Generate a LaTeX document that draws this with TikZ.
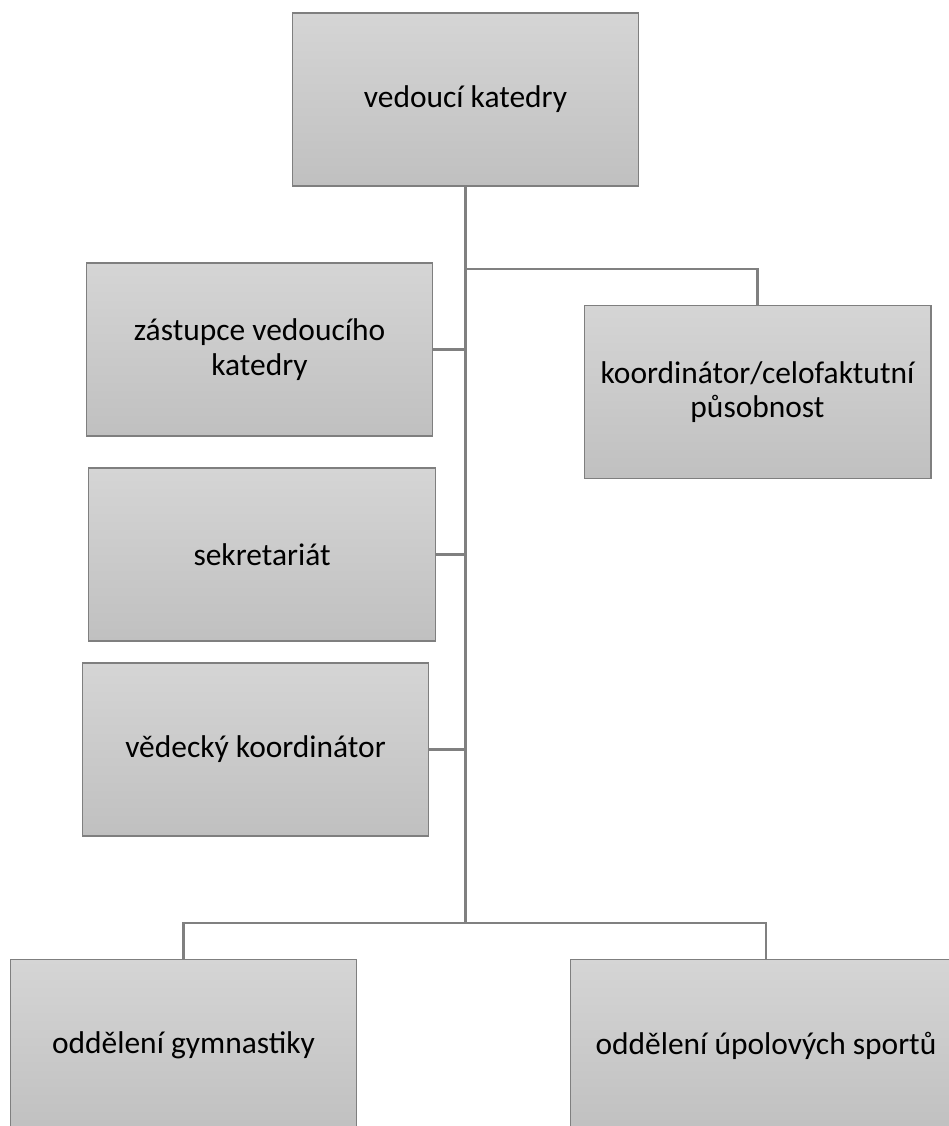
\documentclass[tikz,border=0pt]{standalone}
\usepackage{fontspec}
\setmainfont{Carlito}
\usepackage{tikz}

\definecolor{boxtop}{HTML}{D5D5D5}
\definecolor{boxbot}{HTML}{C0C0C0}
\definecolor{boxline}{HTML}{7F7F7F}
\definecolor{wire}{HTML}{808080}

\begin{document}
\begin{tikzpicture}[x=0.02cm, y=-0.02cm,
    unit/.style={rectangle, draw=boxline, line width=0.6pt, top color=boxtop, bottom color=boxbot,
        minimum width=6.94cm, minimum height=3.46cm, align=center, inner sep=0pt,
        font=\fontsize{17.9pt}{19.5pt}\selectfont},
    wide/.style={unit, minimum width=7.84cm},
    link/.style={draw=wire, line width=1.15pt}]
    \useasboundingbox (0,0) rectangle (949,1126);
    \clip (0,0) rectangle (949,1126);
    \node[unit] at (465.5,99.5) (head) {vedoucí katedry};
    \node[unit] at (757.5,392) (koord) {koordinátor/celofaktutní\\působnost};
    \node[unit] at (259.5,349.5) (zast) {zástupce vedoucího\\katedry};
    \node[unit] at (262,554.5) (sekr) {sekretariát};
    \node[unit] at (255.5,749.5) (vedkoord) {vědecký koordinátor};
    \node[unit] at (183.5,1045.5) (gym) {oddělení gymnastiky};
    \node[wide] at (766,1045.5) (upol) {oddělení úpolových sportů};
    \coordinate (fork) at (465.5,269);
    \coordinate (split) at (465.5,923);
    \path [link] (head.south) -- (split);
    \path [link] (fork) -| (koord.north);
    \path [link] (zast.east) -- (zast.east -| head.south);
    \path [link] (sekr.east) -- (sekr.east -| head.south);
    \path [link] (vedkoord.east) -- (vedkoord.east -| head.south);
    \path [link] (gym.north) |- (split) -| (upol.north);
\end{tikzpicture}
\end{document}
